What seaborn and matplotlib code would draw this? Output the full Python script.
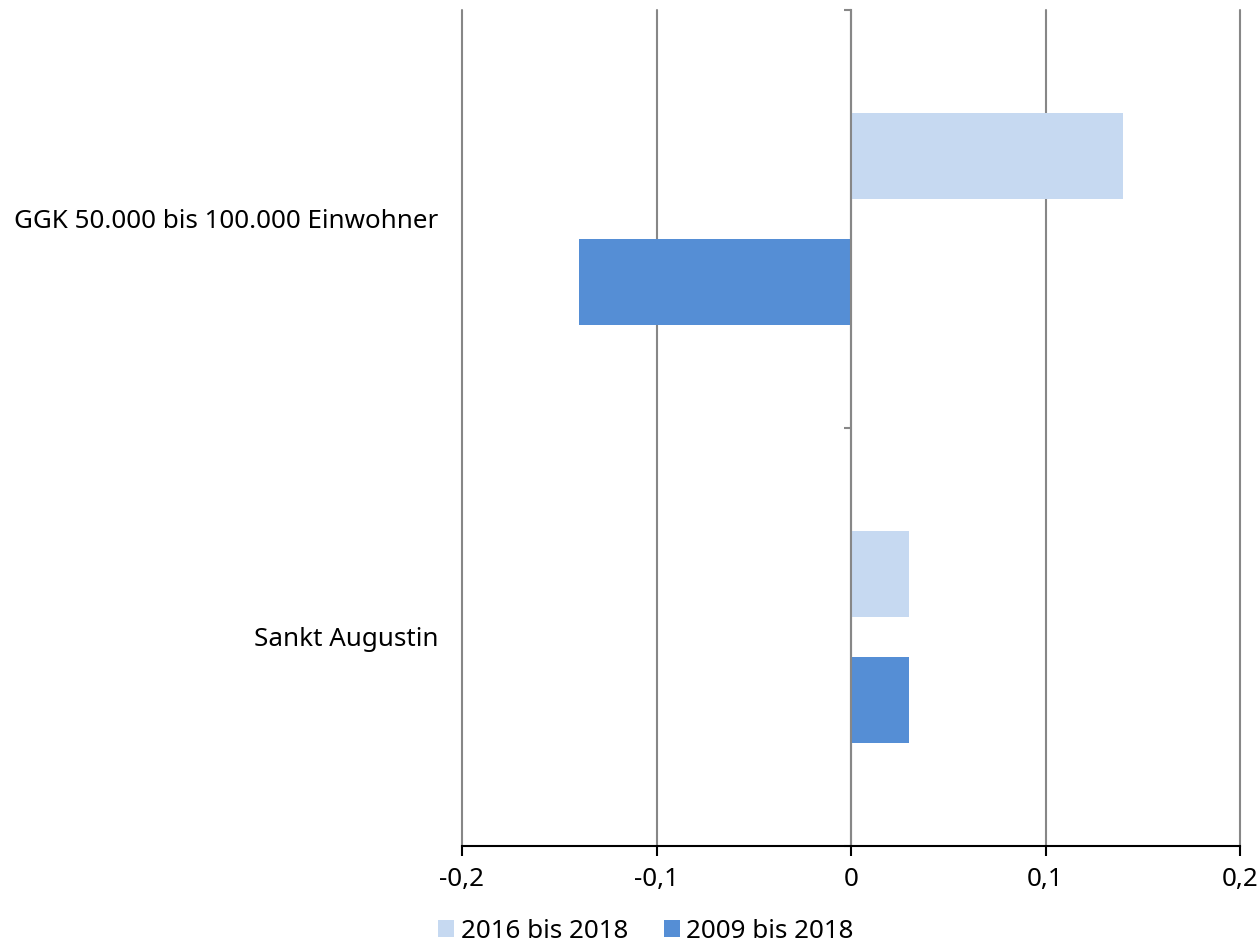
import matplotlib
matplotlib.use("Agg")
import matplotlib.pyplot as plt
import matplotlib.ticker as mticker
import seaborn as sns
import pandas as pd

categories = ["GGK 50.000 bis 100.000 Einwohner", "Sankt Augustin"]
series = ["2016 bis 2018", "2009 bis 2018"]
values_2016_2018 = [0.14, 0.03]
values_2009_2018 = [-0.14, 0.03]
colors = ["#C6D9F1", "#558ED5"]

rows = []
for c, a, b in zip(categories, values_2016_2018, values_2009_2018):
    rows.append({"Kategorie": c, "Serie": series[0], "Wert": a})
    rows.append({"Kategorie": c, "Serie": series[1], "Wert": b})
df = pd.DataFrame(rows)

sns.set_theme(style="white")
plt.rcParams["font.family"] = ["Noto Sans", "DejaVu Sans"]
plt.rcParams["text.color"] = "black"

FS = 18.7
W, H = 1259, 944
fig = plt.figure(figsize=(W / 100, H / 100), dpi=100)
ax = fig.add_axes([462 / W, 1 - 846 / H, (1240 - 462) / W, (846 - 10) / H])

sns.barplot(data=df, y="Kategorie", x="Wert", hue="Serie", order=categories,
            hue_order=series, palette=colors, orient="h", width=0.603,
            dodge=True, ax=ax, legend=True, saturation=1)

bar_h = 86 / 418
for p in ax.patches:
    cy = p.get_y() + p.get_height() / 2
    p.set_height(bar_h)
    p.set_y(cy - bar_h / 2)
    p.set_edgecolor("none")

ax.set_xlim(-0.2, 0.2)
ax.set_ylim(1.5, -0.5)
ax.set_xlabel("")
ax.set_ylabel("")

ax.xaxis.set_major_locator(mticker.MultipleLocator(0.1))
ax.xaxis.set_major_formatter(mticker.FuncFormatter(
    lambda v, pos: ("0" if abs(v) < 1e-9 else f"{v:.1f}".replace(".", ","))))
ax.grid(axis="x", color="#878787", linewidth=1.5)
ax.grid(axis="y", visible=False)
ax.set_axisbelow(True)
for gl in ax.get_xgridlines():
    gl.set_clip_on(False)

for s in ["top", "right"]:
    ax.spines[s].set_visible(False)
ax.spines["bottom"].set_color("black")
ax.spines["bottom"].set_linewidth(1.5)
ax.spines["bottom"].set_zorder(4)
ax.spines["left"].set_position(("data", 0))
ax.spines["left"].set_color("#878787")
ax.spines["left"].set_linewidth(1.5)
ax.spines["left"].set_zorder(3)

ax.tick_params(axis="x", which="major", direction="out", length=7, width=1.5,
               color="black", labelsize=FS, labelcolor="black", pad=8, bottom=True)
ax.tick_params(axis="y", which="major", length=0, pad=297, labelsize=FS,
               labelcolor="black")
ax.yaxis.set_minor_locator(mticker.FixedLocator([-0.5, 0.5, 1.5]))
ax.tick_params(axis="y", which="minor", direction="out", length=5, width=1.5,
               color="#878787", left=True)

leg = ax.get_legend()
if leg is not None:
    leg.remove()
handles = [plt.Rectangle((0, 0), 1, 1, facecolor=c, edgecolor="none") for c in colors]
fig.legend(handles, series, loc="center", bbox_to_anchor=(646 / W, 1 - 931 / H),
           ncol=2, frameon=False, fontsize=FS, handlelength=0.6, handleheight=0.6,
           handletextpad=0.25, columnspacing=1.4, borderaxespad=0,
           labelcolor="black")

fig.savefig("out.png", dpi=100)
